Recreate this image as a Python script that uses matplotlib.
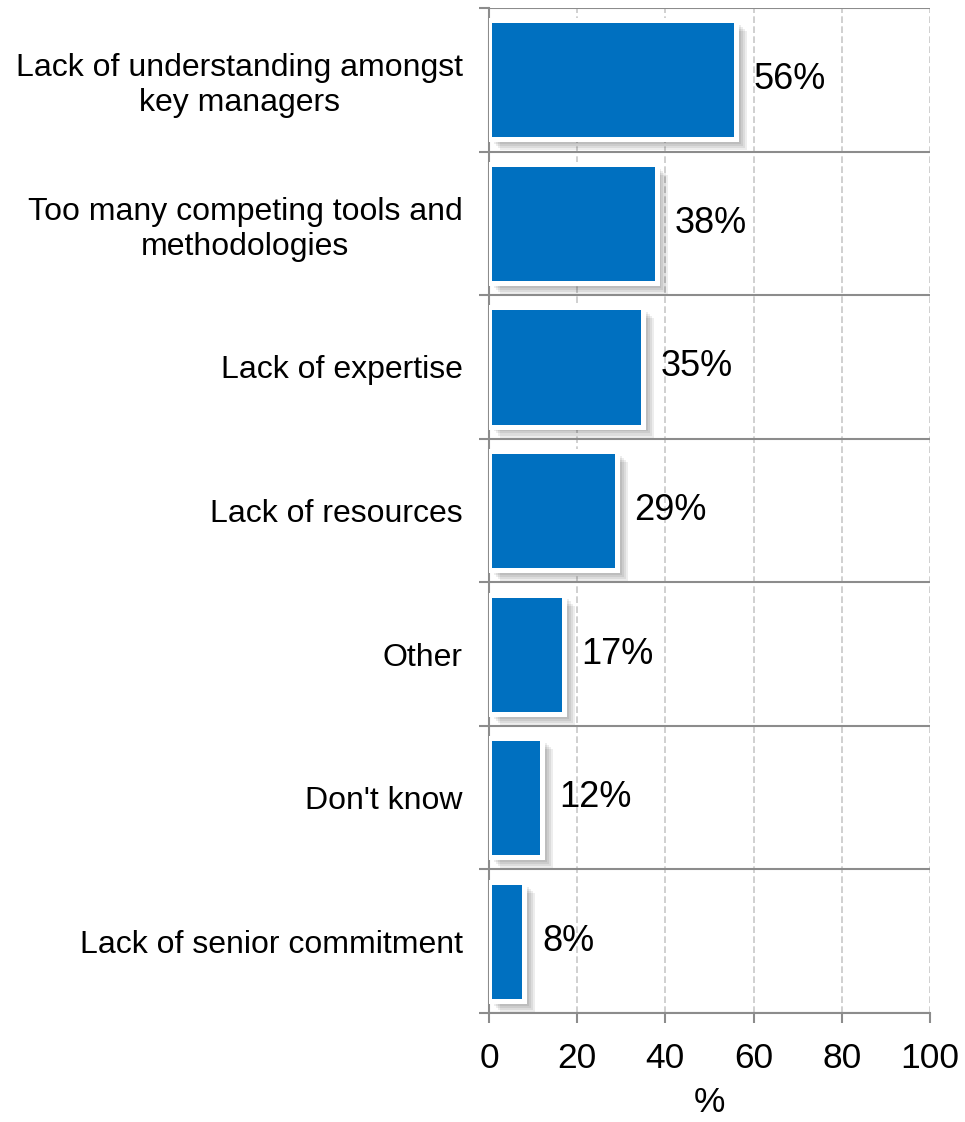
import matplotlib
matplotlib.use("Agg")
import matplotlib.pyplot as plt
import matplotlib.patheffects as pe
import numpy as np

plt.rcParams['font.family'] = ['Liberation Sans', 'DejaVu Sans']

categories = ["Lack of understanding amongst\nkey managers",
              "Too many competing tools and\nmethodologies",
              "Lack of expertise",
              "Lack of resources",
              "Other",
              "Don't know",
              "Lack of senior commitment"]
values = [56, 38, 35, 29, 17, 12, 8]
xticks = [0, 20, 40, 60, 80, 100]

bar_color = '#0070C0'
line_gray = '#8c8c8c'

fig = plt.figure(figsize=(9.65, 11.22), dpi=100)
ax = fig.add_axes([0.5067, 0.0971, 0.4570, 0.8958])

y = np.arange(len(categories))

# soft shadow: a few offset translucent copies under each bar
shadow = [pe.SimplePatchShadow(offset=(d, -d), shadow_rgbFace='black', alpha=0.07)
          for d in (2, 3.5, 5, 6.5, 8)]
bars = ax.barh(y, values, height=0.83, color=bar_color, edgecolor='white',
               linewidth=3.6, zorder=3,
               path_effects=shadow + [pe.Normal()])

for yi, v in zip(y, values):
    ax.text(v + 4, yi, f"{v}%", va='center', ha='left', fontsize=26, zorder=4)

ax.set_xlim(0, 100)
ax.set_ylim(len(categories) - 0.5, -0.5)
ax.set_xticks(xticks)
ax.set_xticklabels([str(t) for t in xticks], fontsize=25.5)
ax.set_xlabel('%', fontsize=25.5, labelpad=8)

ax.set_yticks(y)
ax.set_yticklabels(categories, fontsize=23, multialignment='center',
                   linespacing=1.22)
ax.set_yticks(np.arange(len(categories) + 1) - 0.5, minor=True)
ax.tick_params(axis='y', which='major', length=0, pad=19)
ax.tick_params(axis='y', which='minor', length=7, width=1.5, color=line_gray)
ax.tick_params(axis='x', length=7, width=1.5, color=line_gray, pad=14)

# category separators and dashed value gridlines
ax.grid(axis='y', which='minor', color=line_gray, linewidth=1.5, linestyle='-', zorder=1)
ax.grid(axis='x', which='major', color='#c8c8c8', linewidth=1.2,
        linestyle=(0, (4, 2)), zorder=1)

for s in ('top', 'right'):
    ax.spines[s].set_visible(False)
for s in ('left', 'bottom'):
    ax.spines[s].set_color(line_gray)
    ax.spines[s].set_linewidth(1.5)

fig.savefig('out.png', dpi=100)
